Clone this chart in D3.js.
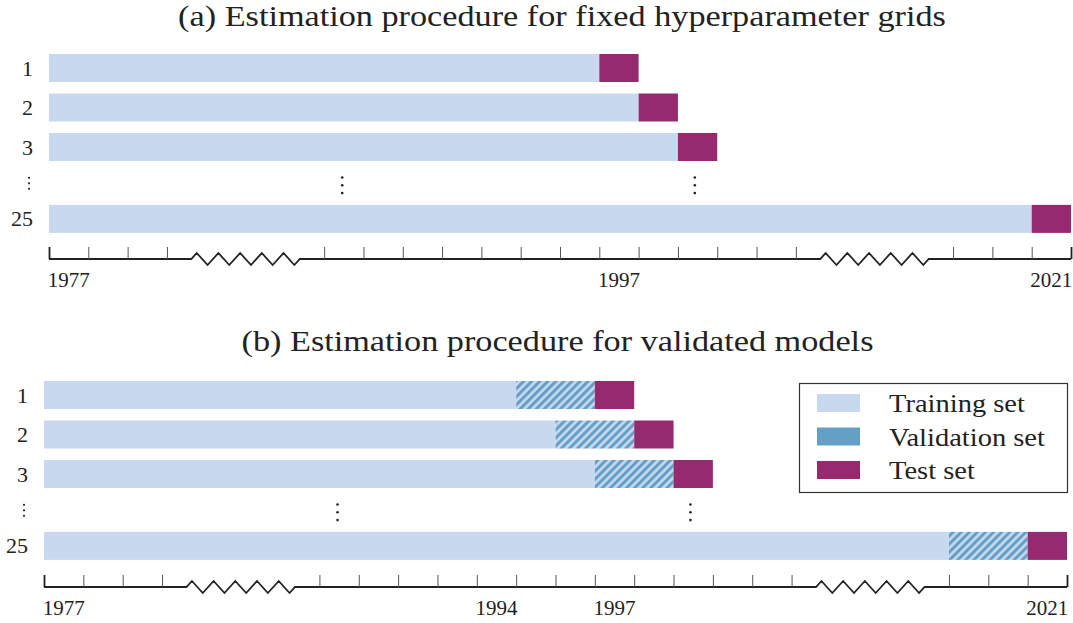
<!DOCTYPE html>
<html>
<head>
<meta charset="utf-8">
<script src="https://cdn.jsdelivr.net/npm/d3@7"></script>
<style>
  body { margin: 0; background: #fff; }
  text { font-family: "Liberation Serif", "DejaVu Serif", serif; fill: #222; }
</style>
</head>
<body>
<script>
/* ---- data ---- */
var models = ["1", "2", "3", "25"];
var testYears = [1997, 1998, 1999, 2021];
var rowPos = [0, 1, 2, 3.82];      // vertical slot of each model row
var trainStart = 1977;
var valYears = 2;                  // validation window (panel b)
var labelsA = [1977, 1997, 2021];
var labelsB = [1977, 1994, 1997, 2021];
var legendItems = ["Training set", "Validation set", "Test set"];

// compressed time axis: year -> slot
var breakYears = [1977, 1980, 1990, 2002, 2019, 2022];
var breakSlots = [0, 3, 7, 19, 23, 26];
var tickYears = d3.range(1977, 1981).concat(d3.range(1990, 2003), d3.range(2019, 2023));

var colTrain = "#c8d8ee", colVal = "#64a0c6", colTest = "#952a6f";

var W = 1073, H = 623;
var svg = d3.select("body").append("svg").attr("width", W).attr("height", H);

// hatch for validation set
var pat = svg.append("defs").append("pattern")
  .attr("id", "hatch")
  .attr("patternUnits", "userSpaceOnUse")
  .attr("width", 5.7).attr("height", 5.7)
  .attr("patternTransform", "rotate(45)");
pat.append("rect").attr("width", 5.7).attr("height", 5.7).attr("fill", colTrain);
pat.append("rect").attr("width", 3).attr("height", 5.7).attr("fill", colVal);

// the reference font (Computer Modern) runs wider than Liberation Serif
function widen(sel, k) {
  sel.each(function() {
    var w = this.getComputedTextLength();
    d3.select(this).attr("textLength", w * k).attr("lengthAdjust", "spacingAndGlyphs");
  });
}

function panel(opt) {
  var slot = d3.scaleLinear().domain(breakYears).range(breakSlots);
  var x = d3.scaleLinear().domain([0, 26]).range([opt.x0, opt.x1]);
  var xy = function(yr) { return x(slot(yr)); };
  var y = d3.scaleLinear().domain([0, 1]).range([opt.top, opt.top + 39.5]);
  var bh = 28;
  var g = svg.append("g");

  g.append("text")
    .attr("x", (opt.x0 + opt.x1) / 2 + 2)
    .attr("y", opt.titleY)
    .attr("text-anchor", "middle")
    .attr("font-size", 29.5)
    .text(opt.title)
    .call(widen, 1.16);

  var rows = g.selectAll("g.row")
    .data(models)
    .enter().append("g").attr("class", "row");

  // training
  rows.append("rect")
    .attr("x", xy(trainStart))
    .attr("y", function(d, i) { return y(rowPos[i]); })
    .attr("width", function(d, i) {
      var end = opt.validated ? testYears[i] - valYears : testYears[i];
      return xy(end) - xy(trainStart);
    })
    .attr("height", bh)
    .attr("fill", colTrain);

  if (opt.validated) {
    rows.append("rect")
      .attr("x", function(d, i) { return xy(testYears[i] - valYears); })
      .attr("y", function(d, i) { return y(rowPos[i]); })
      .attr("width", function(d, i) { return xy(testYears[i]) - xy(testYears[i] - valYears); })
      .attr("height", bh)
      .attr("fill", "url(#hatch)");
  }

  // test
  rows.append("rect")
    .attr("x", function(d, i) { return xy(testYears[i]); })
    .attr("y", function(d, i) { return y(rowPos[i]); })
    .attr("width", function(d, i) { return xy(testYears[i] + 1) - xy(testYears[i]); })
    .attr("height", bh)
    .attr("fill", colTest);

  rows.append("text")
    .attr("x", opt.x0 - 16)
    .attr("y", function(d, i) { return y(rowPos[i]) + bh / 2 + 7.5; })
    .attr("text-anchor", "end")
    .attr("font-size", 22)
    .text(function(d) { return d; });

  // vertical ellipses
  var dotY = y(2.97) + bh / 2;
  [xy(1990.46), xy(1999.43)].forEach(function(cx) {
    g.selectAll(null).data([-7.8, 0, 7.8]).enter().append("circle")
      .attr("cx", cx).attr("cy", function(d) { return dotY + d; })
      .attr("r", 1.3).attr("fill", "#222");
  });
  g.selectAll(null).data([-5.5, 0, 5.5]).enter().append("circle")
    .attr("cx", opt.x0 - 20).attr("cy", function(d) { return dotY - 2 + d; })
    .attr("r", 1.1).attr("fill", "#222");

  // axis line with zigzag breaks
  var ay = opt.axisY;
  var pts = [[xy(1977), ay]];
  [[1980, 1990], [2002, 2019]].forEach(function(b) {
    var c = (xy(b[0]) + xy(b[1])) / 2, s = c - 54.25;
    pts.push([s, ay]);
    for (var k = 0; k < 10; k++) {
      pts.push([s + 5.43 + 10.85 * k, ay + (k % 2 === 0 ? -6 : 6)]);
    }
    pts.push([s + 108.5, ay]);
  });
  pts.push([xy(2022), ay]);
  g.append("path")
    .attr("d", d3.line()(pts))
    .attr("fill", "none")
    .attr("stroke", "#222")
    .attr("stroke-width", 1.8)
    .attr("stroke-linejoin", "miter");

  var axis = d3.axisBottom(x)
    .tickValues(tickYears.map(slot))
    .tickSize(12)
    .tickFormat("");
  var ag = g.append("g").attr("transform", "translate(0," + ay + ")").call(axis);
  ag.select(".domain").remove();
  ag.selectAll(".tick line")
    .attr("y2", -12)
    .attr("stroke", function(d) { return (d === 0 || d === 26) ? "#222" : "#555"; })
    .attr("stroke-width", function(d) { return (d === 0 || d === 26) ? 1.8 : 1; });

  g.selectAll("text.yr")
    .data(opt.labels)
    .enter().append("text")
    .attr("class", "yr")
    .attr("x", function(d) { return (xy(d) + xy(d + 1)) / 2; })
    .attr("y", ay + 28)
    .attr("text-anchor", "middle")
    .attr("font-size", 21)
    .text(function(d) { return d; });
}

panel({ title: "(a) Estimation procedure for fixed hyperparameter grids",
        titleY: 26, x0: 49, x1: 1071, top: 54, axisY: 259, labels: labelsA, validated: false });
panel({ title: "(b) Estimation procedure for validated models",
        titleY: 351, x0: 44, x1: 1067, top: 381, axisY: 587, labels: labelsB, validated: true });

// legend
var lg = svg.append("g");
lg.append("rect")
  .attr("x", 799.5).attr("y", 383.5).attr("width", 268).attr("height", 109)
  .attr("fill", "#fff").attr("stroke", "#333").attr("stroke-width", 1.2);
var ly = d3.scaleLinear().domain([0, 1]).range([412, 445.5]);
lg.selectAll("rect.sw")
  .data(legendItems)
  .enter().append("rect")
  .attr("class", "sw")
  .attr("x", 817).attr("width", 43)
  .attr("y", function(d, i) { return ly(i) - 18; })
  .attr("height", 18)
  .attr("fill", function(d, i) { return [colTrain, colVal, colTest][i]; });
lg.selectAll("text")
  .data(legendItems)
  .enter().append("text")
  .attr("x", 889)
  .attr("y", function(d, i) { return ly(i); })
  .attr("font-size", 25)
  .text(function(d) { return d; })
  .call(widen, 1.14);
</script>
</body>
</html>
